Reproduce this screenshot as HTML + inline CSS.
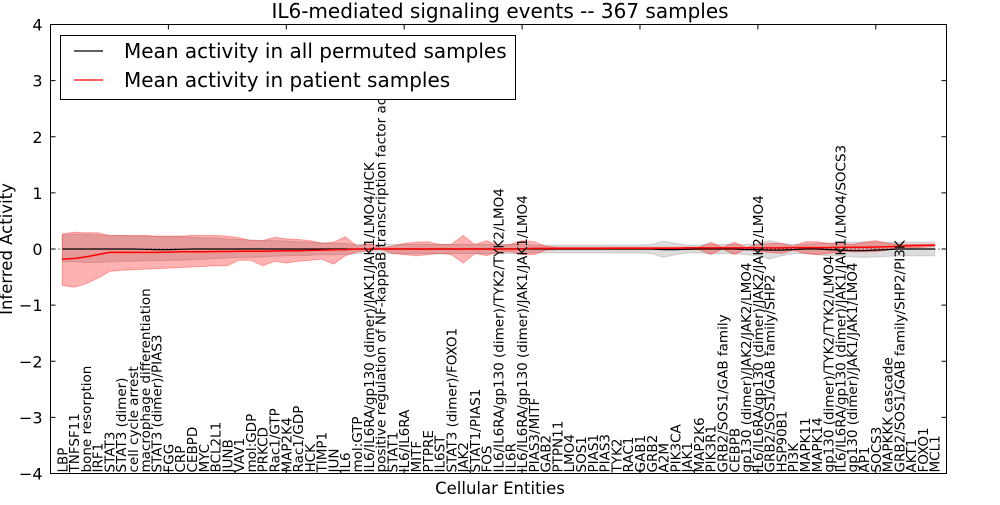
<!DOCTYPE html>
<html><head><meta charset="utf-8"><style>
body{margin:0;background:#fff;}
svg{font-family:"DejaVu Sans","Liberation Sans",sans-serif;}
</style></head><body>
<svg id="chart" width="1000" height="500" viewBox="0 0 1000 500" xmlns="http://www.w3.org/2000/svg">
<rect width="1000" height="500" fill="#fff"/>
<g id="bands"></g>
<g id="lines"></g>
<g id="axes"></g>
<g id="labels"></g>
<text x="500" y="18" font-size="20" text-anchor="middle">IL6-mediated signaling events -- 367 samples</text>
<text x="500" y="494" font-size="16.5" text-anchor="middle">Cellular Entities</text>
<text transform="translate(12,249) rotate(-90)" font-size="16.5" text-anchor="middle">Inferred Activity</text>
<g>
<rect x="60.5" y="35.5" width="455" height="64" fill="#fff" stroke="#000" stroke-width="1"/>
<line x1="74" y1="51" x2="103" y2="51" stroke="#000" stroke-width="1.2"/>
<text x="124" y="58" font-size="20">Mean activity in all permuted samples</text>
<line x1="74" y1="80" x2="103" y2="80" stroke="#f00" stroke-width="1.2"/>
<text x="124" y="87" font-size="20">Mean activity in patient samples</text>
</g>
</svg>
<script>
const categories=["LBP","TNFSF11","bone resorption","IRF1","STAT3","STAT3 (dimer)","cell cycle arrest","macrophage differentiation","STAT3 (dimer)/PIAS3","FGG","CRP","CEBPD","MYC","BCL2L1","JUNB","VAV1","mol:GDP","PRKCD","Rac1/GTP","MAP2K4","Rac1/GDP","HCK","TIMP1","JUN","IL6","mol:GTP","IL6/IL6RA/gp130 (dimer)/JAK1/JAK1/LMO4/HCK","positive regulation of NF-kappaB transcription factor activity","STAT1","IL6/IL6RA","MITF","PTPRE","IL6ST","STAT3 (dimer)/FOXO1","JAK2","STAT1/PIAS1","FOS","IL6/IL6RA/gp130 (dimer)/TYK2/TYK2/LMO4","IL6R","IL6/IL6RA/gp130 (dimer)/JAK1/JAK1/LMO4","PIAS3/MITF","GAB2","PTPN11","LMO4","SOS1","PIAS1","PIAS3","TYK2","RAC1","GAB1","GRB2","A2M","PIK3CA","JAK1","MAP2K6","PIK3R1","GRB2/SOS1/GAB family","CEBPB","gp130 (dimer)/JAK2/JAK2/LMO4","IL6/IL6RA/gp130 (dimer)/JAK2/JAK2/LMO4","GRB2/SOS1/GAB family/SHP2","HSP90B1","PI3K","MAPK11","MAPK14","gp130 (dimer)/TYK2/TYK2/LMO4","IL6/IL6RA/gp130 (dimer)/JAK1/JAK1/LMO4/SOCS3","gp130 (dimer)/JAK1/JAK1/LMO4","AP1","SOCS3","MAPKKK cascade","GRB2/SOS1/GAB family/SHP2/PI3K","AKT1","FOXO1","MCL1"];
const patientMean=[-0.18,-0.17,-0.14,-0.1,-0.06,-0.06,-0.06,-0.06,-0.06,-0.055,-0.05,-0.05,-0.05,-0.045,-0.045,-0.04,-0.04,-0.04,-0.035,-0.03,-0.03,-0.025,-0.02,-0.015,-0.01,0,0,0,0,0,0,0,0,0,0,0,0,0,0,0.005,0.01,0.01,0.01,0.01,0.01,0.01,0.01,0.015,0.015,0.015,0.015,0.015,0.015,0.02,0.02,0.02,0.02,0.02,0.02,0.02,0.02,0.02,0.025,0.025,0.025,0.025,0.03,0.03,0.03,0.035,0.04,0.05,0.06,0.065,0.07];
const patientUpper=[0.27,0.3,0.29,0.29,0.24,0.24,0.24,0.24,0.23,0.23,0.23,0.24,0.24,0.24,0.23,0.2,0.15,0.15,0.21,0.18,0.17,0.15,0.1,0.12,0.22,0.05,0.1,0.02,0.05,0.1,0.12,0.13,0.08,0.08,0.24,0.08,0.15,0.06,0.08,0.15,0.13,0.05,0.03,0.03,0.03,0.03,0.03,0.03,0.03,0.03,0.03,0.03,0.03,0.03,0.03,0.12,0.03,0.12,0.03,0.08,0.1,0.1,0.05,0.13,0.13,0.1,0.1,0.08,0.12,0.15,0.1,0.08,0.08,0.08,0.08];
const patientLower=[-0.65,-0.68,-0.62,-0.52,-0.4,-0.38,-0.37,-0.36,-0.35,-0.34,-0.33,-0.32,-0.31,-0.3,-0.3,-0.2,-0.2,-0.3,-0.22,-0.25,-0.22,-0.2,-0.18,-0.27,-0.12,-0.05,-0.03,0,-0.08,-0.1,-0.12,-0.1,-0.08,-0.1,-0.25,-0.08,-0.12,-0.05,-0.05,-0.1,-0.1,-0.02,-0.01,-0.01,-0.01,-0.01,-0.01,-0.01,-0.01,-0.01,-0.01,-0.01,-0.01,-0.01,-0.01,-0.1,0,-0.1,0,-0.05,-0.06,-0.08,-0.02,-0.08,-0.1,-0.08,-0.05,-0.05,-0.05,-0.05,-0.02,0.02,0.02,0.03,0.05];
const permMean=[0,0,0,0,0,0,0,-0.005,-0.01,-0.01,-0.005,0,0,0,0,0,0,0,0,0,0,0,0,0,0,0,0,0,0,0,0,0,0,0,0,0,0,0,0,0,0,0,0,0,0,0,0,0,0,0,0,-0.01,-0.01,-0.005,0,0,0,0,-0.01,-0.01,-0.02,-0.02,-0.01,0,0,-0.01,-0.02,-0.03,-0.03,-0.02,-0.01,0,0,0,0];
const permUpper=[0.25,0.26,0.26,0.25,0.24,0.24,0.23,0.23,0.22,0.22,0.22,0.21,0.2,0.19,0.18,0.17,0.16,0.15,0.15,0.14,0.13,0.12,0.11,0.1,0.1,0.08,0.08,0.08,0.08,0.08,0.08,0.08,0.08,0.08,0.08,0.08,0.08,0.08,0.08,0.08,0.07,0.07,0.07,0.07,0.07,0.07,0.07,0.07,0.07,0.07,0.08,0.14,0.1,0.07,0.07,0.08,0.08,0.08,0.08,0.1,0.15,0.1,0.08,0.08,0.1,0.1,0.12,0.12,0.12,0.12,0.12,0.12,0.12,0.12,0.12];
const permLower=[-0.22,-0.23,-0.24,-0.24,-0.23,-0.22,-0.22,-0.21,-0.21,-0.2,-0.2,-0.19,-0.18,-0.17,-0.16,-0.15,-0.15,-0.14,-0.13,-0.12,-0.12,-0.11,-0.1,-0.1,-0.1,-0.08,-0.08,-0.08,-0.08,-0.08,-0.08,-0.08,-0.08,-0.08,-0.08,-0.08,-0.08,-0.08,-0.08,-0.08,-0.07,-0.07,-0.07,-0.07,-0.07,-0.07,-0.07,-0.07,-0.07,-0.07,-0.08,-0.15,-0.1,-0.07,-0.07,-0.08,-0.08,-0.08,-0.1,-0.12,-0.18,-0.12,-0.08,-0.08,-0.1,-0.12,-0.12,-0.14,-0.15,-0.14,-0.13,-0.12,-0.12,-0.12,-0.12];
const yTicks=[-4,-3,-2,-1,0,1,2,3,4];
const xTicks=[0,10,20,30,40,50,60,70];

const L=50.5,R=946.5,T=24.5,B=473.5,XMAX=76;
const xs=i=>L+(i+1)*(R-L)/XMAX;
const xv=v=>L+v*(R-L)/XMAX;
const ys=v=>T+(4-v)*(B-T)/8;
const NS='http://www.w3.org/2000/svg';
function mk(tag,attrs,parent){const e=document.createElementNS(NS,tag);for(const k in attrs)e.setAttribute(k,attrs[k]);parent.appendChild(e);return e;}
function band(up,lo){let d='M';up.forEach((v,i)=>{d+=xs(i).toFixed(1)+','+ys(v).toFixed(1)+' L';});for(let i=lo.length-1;i>=0;i--){d+=xs(i).toFixed(1)+','+ys(lo[i]).toFixed(1)+(i?' L':' Z');}return d;}
function line(arr){return arr.map((v,i)=>(i?'L':'M')+xs(i).toFixed(1)+','+ys(v).toFixed(1)).join(' ');}
const gB=document.getElementById('bands'),gL=document.getElementById('lines'),gA=document.getElementById('axes'),gT=document.getElementById('labels');
const pb=mk('path',{d:band(permUpper,permLower),fill:'#bbbbbb','fill-opacity':0.5,stroke:'#aaaaaa','stroke-opacity':0.5},gB);


const rb=mk('path',{d:band(patientUpper,patientLower),fill:'#ff0000','fill-opacity':0.3,stroke:'#ff0000','stroke-opacity':0.3},gB);


const z=mk('line',{x1:L,x2:R,y1:ys(0),y2:ys(0),stroke:'#000','stroke-dasharray':'1,3','stroke-width':1},gL);


const bl=mk('path',{d:line(permMean),fill:'none',stroke:'#000','stroke-width':1.2},gL);


const rl=mk('path',{d:line(patientMean),fill:'none',stroke:'#f00','stroke-width':1.5},gL);


const fr=mk('rect',{x:L,y:T,width:R-L,height:B-T,fill:'none',stroke:'#000','stroke-width':1},gA);


yTicks.forEach(v=>{
  mk('line',{x1:L,x2:L+5,y1:ys(v),y2:ys(v),stroke:'#000'},gA);
  mk('line',{x1:R,x2:R-5,y1:ys(v),y2:ys(v),stroke:'#000'},gA);
  const t=mk('text',{x:L-8,y:ys(v)+6,'font-size':16,'text-anchor':'end'},gA);
  
  
  t.textContent=v<0?'\u2212'+(-v):String(v);
});
xTicks.forEach(v=>{
  mk('line',{x1:xv(v),x2:xv(v),y1:T,y2:T+5,stroke:'#000'},gA);
  mk('line',{x1:xv(v),x2:xv(v),y1:B,y2:B-5,stroke:'#000'},gA);
});
categories.forEach((c,i)=>{
  const t=mk('text',{transform:'translate('+(xs(i)+5).toFixed(1)+','+(B-1)+') rotate(-90)','font-size':13.5},gT);
  
  
  t.textContent=c;
});
</script>
</body></html>
